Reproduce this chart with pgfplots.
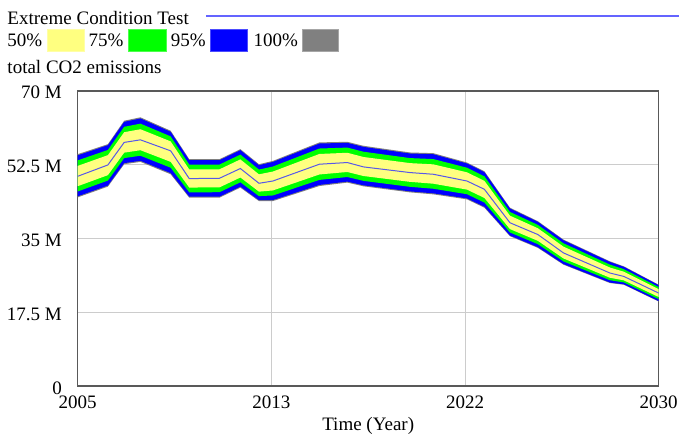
\documentclass[border=0pt]{standalone}
\usepackage{fontspec}
\setmainfont{Liberation Serif}
\usepackage{pgfplots}
\usepackage{pgfplotstable}
\pgfplotsset{compat=1.18}
\usepgfplotslibrary{fillbetween}

\definecolor{band50}{HTML}{FFFF80}
\definecolor{band75}{HTML}{00FF00}
\definecolor{band95}{HTML}{0000FF}
\definecolor{band100}{HTML}{808080}
\definecolor{medline}{HTML}{5858E8}
\definecolor{titleline}{HTML}{6464FF}

% total CO2 emissions, millions; sensitivity bands
\pgfplotstableread{
t       lo100 lo95  lo75  lo50  med   hi50  hi75  hi95  hi100
2005.0  44.76 45.01 46.16 47.41 49.76 52.22 53.53 54.74 55.00
2006.3  47.31 47.57 48.75 50.03 52.45 54.77 56.00 57.13 57.38
2007.0  52.62 52.88 54.07 55.36 57.79 60.21 61.49 62.67 62.93
2007.7  53.17 53.43 54.63 55.94 58.40 60.91 62.24 63.47 63.74
2009.0  50.24 50.52 51.79 53.18 55.79 58.03 59.22 60.31 60.55
2009.8  44.69 44.92 45.96 47.09 49.21 51.37 52.52 53.58 53.81
2011.1  44.69 44.92 45.98 47.13 49.29 51.41 52.54 53.58 53.81
2012.0  47.07 47.30 48.34 49.47 51.60 53.76 54.90 55.96 56.19
2012.8  43.88 44.09 45.06 46.12 48.10 50.22 51.35 52.39 52.62
2013.4  43.88 44.12 45.21 46.40 48.64 50.88 52.07 53.17 53.41
2015.4  47.45 47.71 48.90 50.19 52.62 55.05 56.34 57.53 57.79
2016.6  48.26 48.50 49.59 50.78 53.02 55.33 56.56 57.68 57.93
2017.3  47.38 47.61 48.67 49.82 51.98 54.33 55.58 56.73 56.98
2019.3  45.95 46.18 47.26 48.44 50.64 52.88 54.07 55.16 55.40
2020.3  45.48 45.72 46.81 48.00 50.24 52.59 53.84 54.99 55.24
2021.75 44.29 44.51 45.51 46.60 48.64 50.70 51.79 52.80 53.02
2022.5  42.31 42.53 43.53 44.62 46.67 48.68 49.75 50.74 50.95
2023.6  35.55 35.71 36.44 37.24 38.74 40.42 41.31 42.13 42.31
2024.8  32.79 32.95 33.67 34.46 35.95 37.44 38.23 38.96 39.12
2025.9  28.81 28.95 29.59 30.29 31.60 33.09 33.88 34.60 34.76
2027.9  24.45 24.57 25.12 25.71 26.83 28.13 28.82 29.46 29.60
2028.5  24.05 24.15 24.60 25.09 26.02 27.14 27.74 28.29 28.41
2030.0  20.07 20.17 20.63 21.13 22.07 23.00 23.50 23.95 24.05
}\co

\begin{document}
\fontsize{19}{22}\selectfont
\begin{tikzpicture}
% header: title and band legend
\node[anchor=base west,inner sep=0pt] at (-70.4pt,361.2pt) {Extreme Condition Test};
\fill[titleline] (128pt,369.6pt) rectangle (601.3pt,371.4pt);
\node[anchor=base west,inner sep=0pt] at (-70.4pt,339.5pt) {50\%};
\fill[band50,draw=band50!70!white] (-31pt,334.5pt) rectangle (6.3pt,356.9pt);
\node[anchor=base west,inner sep=0pt] at (10.6pt,339.5pt) {75\%};
\fill[band75,draw=band75!70!white] (50.6pt,334.5pt) rectangle (88pt,356.9pt);
\node[anchor=base west,inner sep=0pt] at (93pt,339.5pt) {95\%};
\fill[band95,draw=band95!70!white] (132.3pt,334.5pt) rectangle (169.6pt,356.9pt);
\node[anchor=base west,inner sep=0pt] at (175.6pt,339.5pt) {100\%};
\fill[band100,draw=band100!70!white] (224pt,334.5pt) rectangle (260.6pt,356.9pt);
\node[anchor=base west,inner sep=0pt] at (-70.4pt,312.2pt) {total CO2 emissions};

\begin{axis}[
  at={(0pt,0pt)}, anchor=south west,
  scale only axis, width=581pt, height=295.3pt,
  xmin=2005, xmax=2030, ymin=0, ymax=70,
  xtick={2005,2013.3333,2021.6667,2030},
  xticklabels={2005,2013,2022,2030},
  ytick={0,17.5,35,52.5,70},
  yticklabels={0,17.5 M,35 M,52.5 M,70 M},
  major tick length=0pt,
  grid=major,
  grid style={draw=black!20,line width=1pt},
  axis line style={draw=black!65,line width=1.5pt},
  xticklabel style={anchor=base,inner sep=0pt,yshift=-22pt,font=\fontsize{19}{22}\selectfont},
  yticklabel style={anchor=base east,inner sep=0pt,xshift=-15.7pt,yshift=-8pt,font=\fontsize{19}{22}\selectfont},
  xlabel={Time (Year)},
  xlabel style={at={(axis description cs:0.5,0)},anchor=base,inner sep=0pt,yshift=-44pt,font=\fontsize{19}{22}\selectfont},
]
\addplot[name path=h100,draw=none,forget plot] table[x=t,y=hi100]{\co};
\addplot[name path=l100,draw=none,forget plot] table[x=t,y=lo100]{\co};
\addplot[name path=h95,draw=none,forget plot] table[x=t,y=hi95]{\co};
\addplot[name path=l95,draw=none,forget plot] table[x=t,y=lo95]{\co};
\addplot[name path=h75,draw=none,forget plot] table[x=t,y=hi75]{\co};
\addplot[name path=l75,draw=none,forget plot] table[x=t,y=lo75]{\co};
\addplot[name path=h50,draw=none,forget plot] table[x=t,y=hi50]{\co};
\addplot[name path=l50,draw=none,forget plot] table[x=t,y=lo50]{\co};
\addplot[band100,forget plot] fill between[of=h100 and l100];
\addplot[band95,forget plot] fill between[of=h95 and l95];
\addplot[band75,forget plot] fill between[of=h75 and l75];
\addplot[band50,forget plot] fill between[of=h50 and l50];
\addplot[medline,line width=1pt,forget plot] table[x=t,y=med]{\co};
\end{axis}
\pgfresetboundingbox
\path[use as bounding box] (-77.7pt,-48.8pt) rectangle (601.3pt,386.2pt);
\end{tikzpicture}
\end{document}
